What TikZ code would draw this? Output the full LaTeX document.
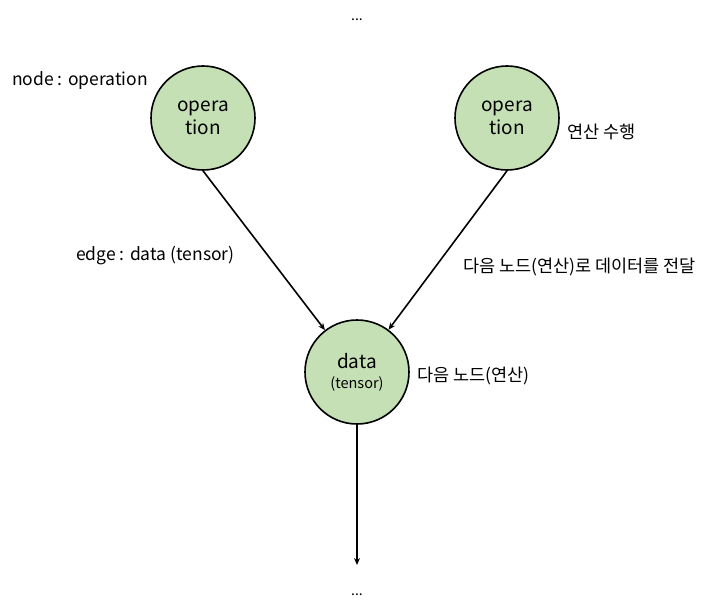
\documentclass[tikz,border=0pt]{standalone}
\usepackage{fontspec}
\setmainfont{Noto Sans CJK KR}
\usetikzlibrary{arrows.meta}
\begin{document}
\begin{tikzpicture}[x=1pt,y=-1pt,
  opnode/.style={circle,draw=black,line width=1.6pt,fill=opgreen,minimum size=104pt,inner sep=0pt,align=center,font=\fontsize{19}{23}\selectfont},
  lbl/.style={font=\fontsize{17.5}{19}\selectfont,inner sep=0pt},
  conn/.style={line width=1.6pt,-{Stealth[length=7pt,width=6pt]}},
  dots/.style={font=\fontsize{14}{14}\selectfont,inner sep=0pt,anchor=base}]
\definecolor{opgreen}{RGB}{197,224,180}
\useasboundingbox (0,0) rectangle (711,615);
\node[dots] (topdots) at (357,21) {...};
\node[opnode] (op1) at (203,118) {opera\\tion};
\node[opnode] (op2) at (507,118) {opera\\tion};
\node[opnode] (data) at (357,372) {data\\[-3pt]{\fontsize{14.5}{16}\selectfont(tensor)}};
\node[dots] (botdots) at (357,595) {...};
\coordinate (end) at (357,565);
\node[lbl,anchor=west] (l1) at (12,81) {node : operation};
\node[lbl,anchor=west] (l2) at (567,132) {연산 수행};
\node[lbl,anchor=west] (l3) at (76,256) {edge : data (tensor)};
\node[lbl,anchor=west] (l4) at (463,267) {다음 노드(연산)로 데이터를 전달};
\node[lbl,anchor=west] (l5) at (417,376) {다음 노드(연산)};
\draw[conn] (op1.south) -- (data);
\draw[conn] (op2.south) -- (data);
\draw[conn] (data) -- (end);
\end{tikzpicture}
\end{document}
